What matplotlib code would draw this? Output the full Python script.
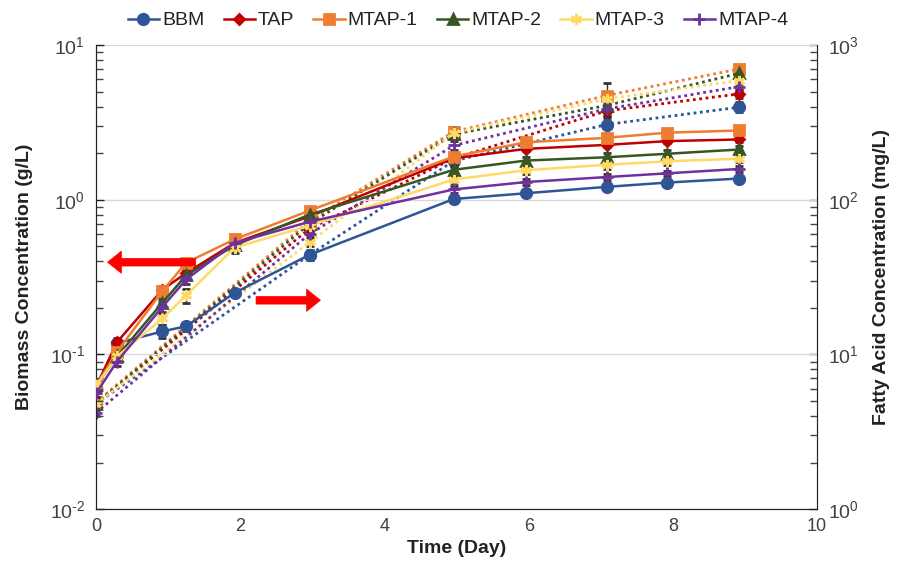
import matplotlib
matplotlib.use('Agg')
import matplotlib.pyplot as plt
from matplotlib.ticker import LogLocator, FixedFormatter, NullFormatter

plt.rcParams['font.family'] = ['Liberation Sans', 'DejaVu Sans']
plt.rcParams['mathtext.default'] = 'regular'

# ---- data ----
names = ['BBM', 'TAP', 'MTAP-1', 'MTAP-2', 'MTAP-3', 'MTAP-4']

t_bio = [0, 0.29, 0.92, 1.25, 1.92, 2.96, 4.96, 5.96, 7.08, 7.92, 8.92]
bio_bbm = [0.060, 0.118, 0.141, 0.152, 0.250, 0.440, 1.01, 1.10, 1.21, 1.29, 1.37]
bio_tap = [0.062, 0.120, 0.262, 0.336, 0.525, 0.780, 1.85, 2.13, 2.26, 2.39, 2.45]
bio_m1 = [0.063, 0.104, 0.257, 0.392, 0.554, 0.850, 1.90, 2.35, 2.51, 2.71, 2.80]
bio_m2 = [0.063, 0.097, 0.216, 0.325, 0.507, 0.800, 1.56, 1.79, 1.88, 1.98, 2.11]
bio_m3 = [0.063, 0.097, 0.171, 0.241, 0.490, 0.680, 1.35, 1.55, 1.68, 1.77, 1.84]
bio_m4 = [0.056, 0.090, 0.203, 0.305, 0.525, 0.720, 1.165, 1.30, 1.40, 1.48, 1.58]

err_bbm = [0.003, 0.008, 0.014, 0.010, 0.010, 0.02, 0.04, 0.04, 0.05, 0.05, 0.05]
err_tap = [0.003, 0.008, 0.015, 0.015, 0.020, 0.03, 0.08, 0.08, 0.08, 0.08, 0.08]
err_m1 = [0.003, 0.006, 0.012, 0.015, 0.020, 0.03, 0.08, 0.08, 0.08, 0.08, 0.08]
err_m2 = [0.003, 0.006, 0.012, 0.020, 0.025, 0.03, 0.08, 0.10, 0.12, 0.10, 0.12]
err_m3 = [0.003, 0.006, 0.015, 0.025, 0.040, 0.03, 0.07, 0.08, 0.10, 0.10, 0.08]
err_m4 = [0.003, 0.006, 0.015, 0.020, 0.025, 0.03, 0.06, 0.06, 0.06, 0.06, 0.07]

t_fa = [0, 2.96, 4.96, 7.08, 8.92]
fa_bbm = [4.8, 44, 178, 306, 396]
fa_tap = [4.8, 65, 185, 375, 483]
fa_m1 = [4.9, 73, 275, 471, 700]
fa_m2 = [4.8, 70, 265, 406, 656]
fa_m3 = [4.8, 53, 270, 448, 589]
fa_m4 = [4.2, 60, 224, 386, 538]

fa_err_m1 = [0.2, 4, 22, 95, 30]
fa_err_other = [0.2, 3, 15, 40, 30]

left_ticks = [0.01, 0.1, 1, 10]
left_labels = ['$10^{\u20102}$', '$10^{\u20101}$', '$10^{0}$', '$10^{1}$']
right_ticks = [1, 10, 100, 1000]
right_labels = ['$10^{0}$', '$10^{1}$', '$10^{2}$', '$10^{3}$']

bio = [bio_bbm, bio_tap, bio_m1, bio_m2, bio_m3, bio_m4]
bio_err = [err_bbm, err_tap, err_m1, err_m2, err_m3, err_m4]
fa = [fa_bbm, fa_tap, fa_m1, fa_m2, fa_m3, fa_m4]
fa_err = [fa_err_other, fa_err_other, fa_err_m1, fa_err_other, fa_err_other, fa_err_other]

# ---- styles ----
colors = ['#2F5597', '#C00000', '#ED7D31', '#375623', '#FFD966', '#7030A0']
markers = ['o', 'D', 's', '^', (6, 2, 0), '+']
msizes = [7.5, 5.5, 7.5, 7.5, 8, 9]

fig = plt.figure(figsize=(8.98, 5.76), dpi=100)
ax = fig.add_axes([0.107, 0.116, 0.803, 0.806])
ax2 = ax.twinx()

handles = []
for i in range(6):
    c = colors[i]
    # fatty acid (dotted, right axis)
    ax2.errorbar(t_fa, fa[i], yerr=fa_err[i], color=c, ls=(0, (1, 1.3)), lw=2,
                 marker=markers[i], ms=msizes[i], mfc=c, mec=c, mew=2,
                 ecolor='#333333', elinewidth=1, capsize=3, zorder=3)
    # biomass (solid, left axis)
    h = ax.errorbar(t_bio, bio[i], yerr=bio_err[i], color=c, ls='-', lw=1.8,
                    marker=markers[i], ms=msizes[i], mfc=c, mec=c, mew=2,
                    ecolor='#333333', elinewidth=1, capsize=3, zorder=4)
    handles.append(h[0])

ax.set_yscale('log')
ax.set_ylim(0.01, 10)
ax.set_xlim(0, 10)
ax.set_xticks([0, 2, 4, 6, 8, 10])
ax.set_yticks(left_ticks)
ax.yaxis.set_major_formatter(FixedFormatter(left_labels))
ax2.set_yscale('log')
ax2.set_ylim(1, 1000)
ax2.set_yticks(right_ticks)
ax2.yaxis.set_major_formatter(FixedFormatter(right_labels))
for a in (ax, ax2):
    a.yaxis.set_minor_locator(LogLocator(base=10, subs=range(2, 10), numticks=20))
    a.yaxis.set_minor_formatter(NullFormatter())

ax.yaxis.grid(True, which='major', color='#d9d9d9', lw=1)
ax.set_axisbelow(True)
ax.set_zorder(ax2.get_zorder() + 1)
ax.patch.set_visible(False)

for a in (ax, ax2):
    a.tick_params(which='major', direction='in', length=6, width=1, labelsize=14,
                  colors='#222222', labelcolor='#404040', pad=8)
    a.tick_params(which='minor', direction='in', length=5, width=1, colors='#444444')
    for s in a.spines.values():
        s.set_color('#222222')
ax.spines['top'].set_visible(False)
ax2.spines['top'].set_visible(False)
ax2.spines['right'].set_color('#666666')
ax.tick_params(axis='x', which='both', bottom=False, labelsize=13, pad=6)

ax.set_xlabel('Time (Day)', fontsize=14, fontweight='bold', color='#222222')
ax.set_ylabel('Biomass Concentration (g/L)', fontsize=14, fontweight='bold', color='#222222',
              labelpad=12)
ax2.set_ylabel('Fatty Acid Concentration (mg/L)', fontsize=14, fontweight='bold',
               color='#222222', labelpad=10)

# direction arrows
ax.annotate('', xy=(0.012, 0.532), xytext=(0.142, 0.532), xycoords='axes fraction',
            arrowprops=dict(arrowstyle='simple,head_length=1.0,head_width=1.6,tail_width=0.55',
                            fc='#FF0000', ec='#FF0000', lw=0.5), zorder=6)
ax.annotate('', xy=(0.315, 0.45), xytext=(0.218, 0.45), xycoords='axes fraction',
            arrowprops=dict(arrowstyle='simple,head_length=1.0,head_width=1.6,tail_width=0.55',
                            fc='#FF0000', ec='#FF0000', lw=0.5), zorder=6)

fig.legend(handles, names, loc='upper center', bbox_to_anchor=(0.51, 1.01), ncol=6,
           frameon=False, fontsize=14, handlelength=1.6, handletextpad=0.15,
           columnspacing=1.0, labelcolor='#222222')

fig.savefig('out.png', dpi=100)
